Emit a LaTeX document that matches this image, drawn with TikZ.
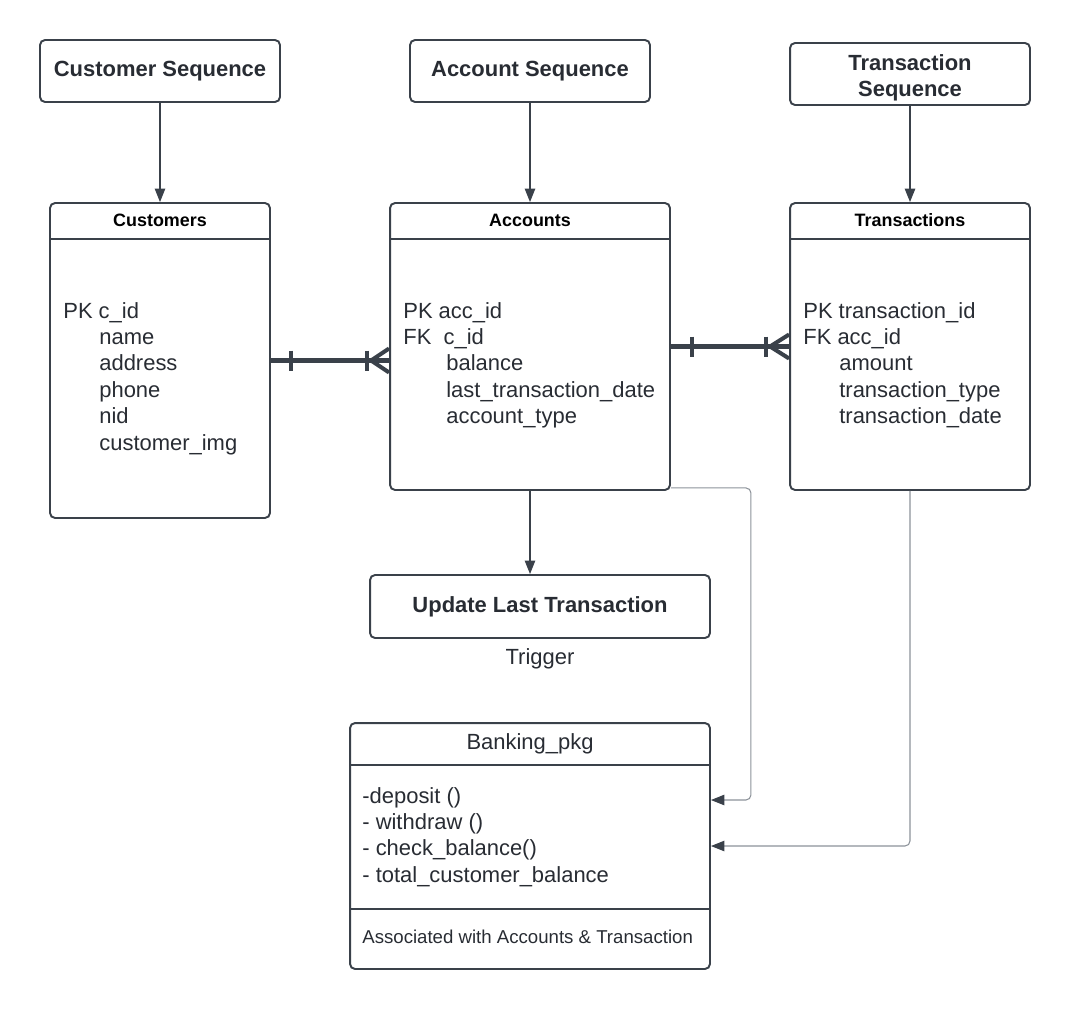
\documentclass[tikz,border=0pt]{standalone}
\usepackage{fontspec}
\setmainfont{Liberation Sans}
\usetikzlibrary{calc,positioning,arrows.meta}
\definecolor{lineDark}{RGB}{58,65,74}
\definecolor{textDark}{RGB}{40,44,51}
\definecolor{lineGray}{RGB}{140,146,153}

\tikzset{
  seqbox/.style={draw=lineDark, line width=1.1pt, rounded corners=0.1cm, minimum width=4.8cm,
    minimum height=1.24cm, inner sep=0pt, text=textDark, align=center,
    font=\bfseries\fontsize{12.5}{14.8}\selectfont},
  tablebox/.style={draw=lineDark, line width=1.1pt, rounded corners=0.1cm, inner sep=0pt},
  headtext/.style={text=black, inner sep=0pt, anchor=base, font=\bfseries\fontsize{10.2}{12}\selectfont},
  fieldtext/.style={text=textDark, inner sep=0pt, anchor=base west, font=\fontsize{12.5}{15}\selectfont},
  flow/.style={draw=lineDark, line width=0.7pt, -{Triangle[length=0.27cm,width=0.21cm]}},
  thinflow/.style={draw=lineGray, line width=0.6pt, rounded corners=0.1cm,
    -{Triangle[length=0.27cm,width=0.21cm,color=lineDark]}},
  relline/.style={draw=lineDark, line width=2.3pt},
}

\begin{document}
\begin{tikzpicture}[x=0.02cm, y=-0.02cm]
  \useasboundingbox (0,0) rectangle (1070,1010);

  % sequences
  \node[seqbox] (custseq) at (160,71) {Customer Sequence};
  \node[seqbox] (accseq) at (530,71) {Account Sequence};
  \node[seqbox] (transseq) at (910,74) {\rule{0pt}{13pt}Transaction\\Sequence};

  % tables
  \node[tablebox, minimum width=4.4cm, minimum height=6.3cm] (cust) at (160,360.5) {};
  \node[tablebox, minimum width=5.6cm, minimum height=5.74cm] (acc) at (530,346.5) {};
  \node[tablebox, minimum width=4.8cm, minimum height=5.74cm] (trans) at (910,346.5) {};
  \foreach \t in {cust,acc,trans}
    \draw[draw=lineDark, line width=1.1pt] ($(\t.north west)+(0,37)$) -- ($(\t.north east)+(0,37)$);

  \node[headtext] (custhead) at (160,226) {Customers};
  \node[headtext] (acchead) at (530,226) {Accounts};
  \node[headtext] (transhead) at (910,226) {Transactions};

  \node[fieldtext] (custpk) at (63,318) {PK c\_id};
  \foreach \f [count=\i] in {name,address,phone,nid,customer\_img}
    \node[fieldtext] (custf\i) at (99,{318+26.4*\i}) {\f};

  \node[fieldtext] (accpk) at (403,318) {PK acc\_id};
  \node[fieldtext] (accfk) at (403,344.4) {FK\ \ c\_id};
  \foreach \f [count=\i] in {balance,last\_transaction\_date,account\_type}
    \node[fieldtext] (accf\i) at (446,{344.4+26.4*\i}) {\f};

  \node[fieldtext] (transpk) at (803,318) {PK transaction\_id};
  \node[fieldtext] (transfk) at (803,344.4) {FK acc\_id};
  \foreach \f [count=\i] in {amount,transaction\_type,transaction\_date}
    \node[fieldtext] (transf\i) at (839,{344.4+26.4*\i}) {\f};

  % trigger
  \node[seqbox, minimum width=6.8cm, minimum height=1.26cm] (update) at (540,606.5) {Update Last Transaction};
  \node[fieldtext, anchor=base] (trigger) at (540,664) {Trigger};

  % package
  \node[tablebox, minimum width=7.2cm, minimum height=4.92cm] (bank) at (530,846) {};
  \draw[draw=lineDark, line width=1.1pt] ($(bank.north west)+(0,43)$) -- ($(bank.north east)+(0,43)$);
  \draw[draw=lineDark, line width=1.1pt] ($(bank.north west)+(0,187)$) -- ($(bank.north east)+(0,187)$);
  \node[fieldtext, anchor=base] (bankhead) at (530,749) {Banking\_pkg};
  \foreach \f [count=\i] in {{-deposit ()},{- withdraw ()},{- check\_balance()},{- total\_customer\_balance}}
    \node[fieldtext] (bankf\i) at (362,{776.6+26.4*\i}) {\f};
  \node[fieldtext, font=\fontsize{10.6}{12}\selectfont] (banknote) at (362,943) {Associated with Accounts \& Transaction};

  % arrows
  \draw[flow] (custseq.south) -- (cust.north);
  \draw[flow] (accseq.south) -- (acc.north);
  \draw[flow] (transseq.south) -- (trans.north);
  \draw[flow] (acc.south) -- (acc.south |- update.north);
  \draw[thinflow] ($(acc.south east)+(0,-3)$) -| ($(bank.east)+(40,-46)$) -- ($(bank.east)+(0,-46)$);
  \draw[thinflow] (trans.south) |- (bank.east);

  % relations
  \coordinate (custacc) at (acc.west |- cust.east);
  \draw[relline] (cust.east) -- (custacc);
  \draw[relline] ($(cust.east)+(20,-10)$) -- ++(0,20);
  \draw[relline] ($(custacc)+(-22,-10)$) -- ++(0,20);
  \draw[relline] ($(custacc)+(0,-12)$) -- ($(custacc)+(-18,0)$) -- ($(custacc)+(0,12)$);

  \draw[relline] (acc.east) -- (trans.west);
  \draw[relline] ($(acc.east)+(21,-10)$) -- ++(0,20);
  \draw[relline] ($(trans.west)+(-23,-10)$) -- ++(0,20);
  \draw[relline] ($(trans.west)+(0,-12)$) -- ($(trans.west)+(-19,0)$) -- ($(trans.west)+(0,12)$);
\end{tikzpicture}
\end{document}
